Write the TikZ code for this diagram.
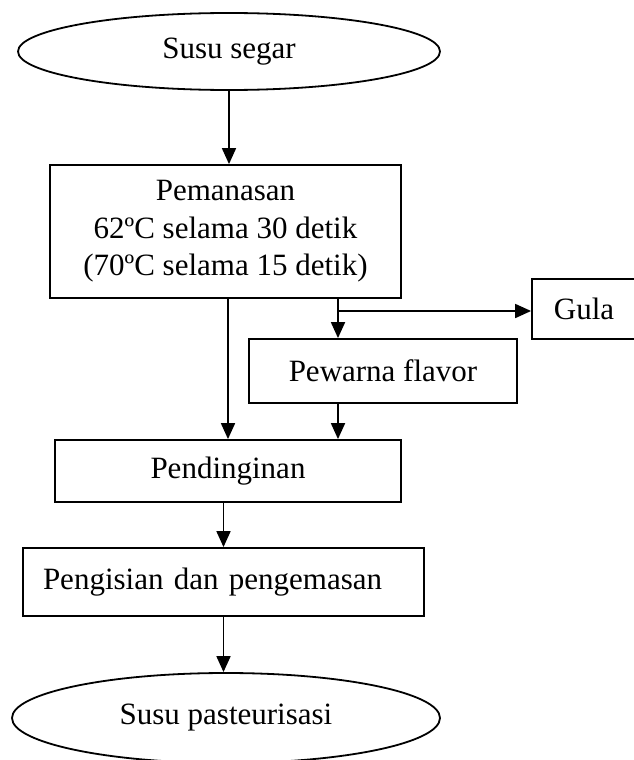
\documentclass[tikz,border=0pt]{standalone}
\usepackage{fontspec}
\setmainfont{Liberation Serif}
\usetikzlibrary{shapes.geometric,arrows.meta,calc}

\tikzset{
  every node/.style={font=\fontsize{31}{37.5}\selectfont},
  boxnode/.style={draw, line width=1.8pt, rectangle, inner sep=0pt, align=center},
  ovalnode/.style={draw, line width=1.8pt, ellipse, inner sep=0pt},
  flow/.style={line width=1.8pt, -{Triangle[length=16pt,width=14pt]}},
  plain/.style={line width=1.8pt}
}

\begin{document}
\begin{tikzpicture}[x=1pt,y=-1pt]
  \useasboundingbox (0,0) rectangle (634,760);
  \clip (0,0) rectangle (634,760);

  % process steps
  \node[ovalnode, minimum width=422, minimum height=77] (start) at (229,51.5) {Susu segar};
  \node[boxnode, minimum width=351, minimum height=133] (heat) at (225.5,231.5)
    {Pemanasan\\62ºC selama 30 detik\\(70ºC selama 15 detik)};
  \node[boxnode, minimum width=104, minimum height=60] (sugar) at (584,309) {Gula};
  \node[boxnode, minimum width=268, minimum height=64] (flavor) at (383,371) {Pewarna flavor};
  \node[boxnode, minimum width=346, minimum height=62] (cool) at (228,471) {Pendinginan};
  \node[boxnode, align=left, text width=361, inner xsep=20, minimum height=68] (fill) at (223.5,582)
    {Pengisian dan pengemasan};
  \node[ovalnode, minimum width=428, minimum height=90] (finish) at (226,718) {Susu pasteurisasi};

  % connectors
  \coordinate (split) at (338,311);
  \draw[flow] (start.south) -- (start.south |- heat.north);
  \draw[flow] (cool.north |- heat.south) -- (cool.north);
  \draw[plain] (split |- heat.south) -- (split);
  \draw[flow] (split) -- (split -| sugar.west);
  \draw[flow] (split) -- (split |- flavor.north);
  \draw[flow] (split |- flavor.south) -- (split |- cool.north);
  \draw[flow] (fill.north |- cool.south) -- (fill.north);
  \draw[flow] (fill.south) -- (fill.south |- finish.north);
\end{tikzpicture}
\end{document}
